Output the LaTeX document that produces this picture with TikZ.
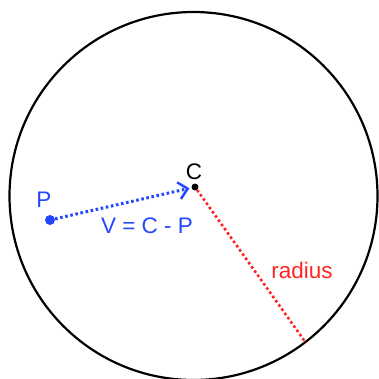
\documentclass[tikz,border=0pt]{standalone}
\usepackage{fontspec}
\setmainfont{Liberation Sans}
\usetikzlibrary{arrows.meta,positioning}
\definecolor{vecblue}{RGB}{35,70,255}
\definecolor{radred}{RGB}{255,35,35}

\begin{document}
\begin{tikzpicture}[x=1pt,y=-1pt,
    rim/.style={draw=black, line width=2.2pt},
    pointdot/.style={circle, inner sep=0pt, minimum size=#1},
    vec/.style={draw=vecblue, line width=3pt, dash pattern=on 2.6pt off 2.6pt,
        -{Straight Barb[length=9pt, width=17pt, line width=2.4pt]}},
    rad/.style={draw=radred, line width=2.6pt, dash pattern=on 2.6pt off 2.6pt},
    lbl/.style={inner sep=0pt, font=\fontsize{22.5}{27}\selectfont}]
\useasboundingbox (0,0) rectangle (379,378);

% Sphere outline
\coordinate (O) at (193.5,196);
\draw[rim] (O) circle[radius=184pt];

% Points
\node[pointdot=10pt, fill=vecblue] (P) at (50,220) {};
\node[pointdot=7pt, fill=black] (C) at (195,187) {};
\coordinate (R) at (306,343);

% Vector and radius
\draw[vec, shorten >=2pt] (P) -- (C);
\draw[rad] (C) -- (R);

% Labels
\node[lbl, text=vecblue] (Plbl) at (44,200) {P};
\node[lbl, text=black] (Clbl) at (194,172) {C};
\node[lbl, text=vecblue] (Vlbl) at (147,226) {V = C - P};
\node[lbl, text=radred] (Rlbl) at (302,270) {radius};
\end{tikzpicture}
\end{document}
